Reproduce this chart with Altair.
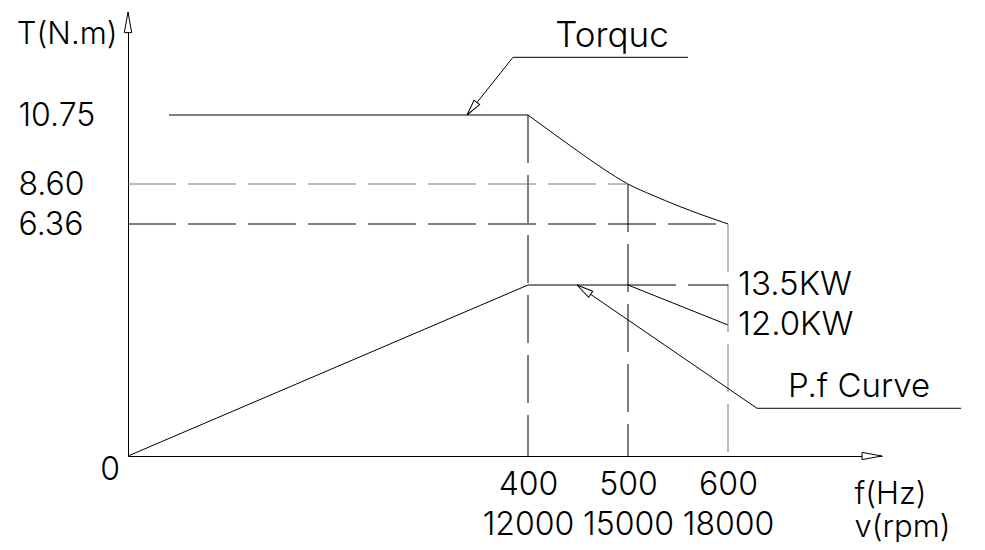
import altair as alt
import pandas as pd

# ---------------- data ----------------
freq_marks = [400, 500, 600]                 # f (Hz)
hz_labels = ["400", "500", "600"]
rpm_labels = ["12000", "15000", "18000"]     # v (rpm)
torque_marks = [10.75, 8.60, 6.36]           # T (N.m) at 400 / 500 / 600 Hz
power_marks = [13.5, 12.0]                   # kW
power_labels = ["13.5KW", "12.0KW"]

torque_flat_f = [41, 400]
torque_flat_t = [10.75, 10.75]
torque_curve_f = [400, 425, 450, 475, 500, 525, 550, 575, 600]
torque_curve_t = [10.75, 10.18, 9.62, 9.08, 8.60, 7.96, 7.38, 6.85, 6.36]

power_f = [0, 400, 500, 600]
power_kw = [0, 13.5, 13.5, 12.0]

# callouts (data units)
torq_leader_f = [339, 385, 560]
torq_leader_t = [10.75, 12.57, 12.57]
torq_text_f, torq_text_t = [484], [12.90]
pf_leader_f = [449, 629, 833]
pf_leader_p = [13.5, 4.37, 4.37]
pf_text_f, pf_text_p = [731], [5.43]

F_END = 754      # end of the f axis (arrow tip)
T_TOP = 14.0     # end of the T axis (arrow tip)

FONT = "Inter"
W = 300
NUM = 32
WORD = 33
INK = "#000000"
GREY = "#7a7a7a"

# ---------------- scales (schematic, piecewise like the drawing) ----------------
xscale = alt.Scale(domain=[0, F_END], nice=False)
tscale = alt.Scale(domain=[0] + sorted(torque_marks) + [T_TOP],
                   range=[444, 212, 172, 103, 0], nice=False)
pscale = alt.Scale(domain=[0] + sorted(power_marks),
                   range=[444, 313, 273], nice=False)

label_expr = " : ".join(
    f"datum.value == {f} ? ['{h}', '{r}']" for f, h, r in zip(freq_marks, hz_labels, rpm_labels)
) + " : ''"

xaxis = alt.Axis(values=freq_marks, labelExpr=label_expr, ticks=False, tickSize=0, grid=False,
                 domain=True, domainColor=INK, domainWidth=1, labelPadding=13, labelLineHeight=40,
                 labelFont=FONT, labelFontSize=NUM, labelFontWeight=W, labelColor=INK,
                 labelFlush=False, labelOverlap=False,
                 title=["f(Hz)", "v(rpm)"], titleAlign="left", titleX=726, titleY=47,
                 titleBaseline="alphabetic", titleLineHeight=33, titleFont=FONT,
                 titleFontSize=31, titleFontWeight=W, titleColor=INK, titleAngle=0)

yaxis = alt.Axis(values=torque_marks, format=".2f", orient="left", labelAlign="left",
                 labelBaseline="middle", labelPadding=110, ticks=False, tickSize=0, grid=False,
                 domain=True, domainColor=INK, domainWidth=1, labelFont=FONT, labelFontSize=NUM,
                 labelFontWeight=W, labelColor=INK, labelOverlap=False,
                 title="T(N.m)", titleAngle=0, titleAlign="right", titleBaseline="alphabetic",
                 titleX=-11, titleY=31, titleFont=FONT, titleFontSize=31, titleFontWeight=W,
                 titleColor=INK)


def X(field="f"):
    return alt.X(f"{field}:Q", scale=xscale, axis=xaxis)


def YT(field="t", axis=None):
    return alt.Y(f"{field}:Q", scale=tscale, axis=axis)


def YP(field="p"):
    return alt.Y(f"{field}:Q", scale=pscale, axis=None)


# ---------------- tables ----------------
df_flat = pd.DataFrame({"f": torque_flat_f, "t": torque_flat_t})
df_curve = pd.DataFrame({"f": torque_curve_f, "t": torque_curve_t})
df_power = pd.DataFrame({"f": power_f, "p": power_kw})

# guide lines: (f,T) -> (f2,T2)
g_black = pd.DataFrame({
    "f": [0, freq_marks[0], freq_marks[1]],
    "t": [torque_marks[2], torque_marks[0], torque_marks[1]],
    "f2": [freq_marks[2], freq_marks[0], freq_marks[1]],
    "t2": [torque_marks[2], 0, 0],
})
g_grey = pd.DataFrame({
    "f": [0, freq_marks[2]],
    "t": [torque_marks[1], torque_marks[2]],
    "f2": [freq_marks[1], freq_marks[2]],
    "t2": [torque_marks[1], 0],
})
g_power = pd.DataFrame({"f": [freq_marks[1]], "p": [power_marks[0]],
                        "f2": [freq_marks[2]], "p2": [power_marks[0]]})

df_tlead = pd.DataFrame({"f": torq_leader_f, "t": torq_leader_t})
df_plead = pd.DataFrame({"f": pf_leader_f, "p": pf_leader_p})

DASH = [48, 12]
ARROW = "M0,0L-0.22,1L0.22,1Z"
ARROW_AX = "M0,0L-0.18,1L0.18,1Z"

layers = []
# torque flat (carries the T axis)
layers.append(alt.Chart(df_flat).mark_line(color=INK, strokeWidth=1).encode(x=X(), y=YT(axis=yaxis)))
layers.append(alt.Chart(df_curve).mark_line(color=INK, strokeWidth=1, interpolate="monotone")
              .encode(x=X(), y=YT()))
layers.append(alt.Chart(df_power).mark_line(color=INK, strokeWidth=1).encode(x=X(), y=YP()))
layers.append(alt.Chart(g_black).mark_rule(color=INK, strokeWidth=1, strokeDash=DASH)
              .encode(x=X(), y=YT(), x2="f2:Q", y2="t2:Q"))
layers.append(alt.Chart(g_grey).mark_rule(color=GREY, strokeWidth=1, strokeDash=DASH)
              .encode(x=X(), y=YT(), x2="f2:Q", y2="t2:Q"))
layers.append(alt.Chart(g_power).mark_rule(color=INK, strokeWidth=1, strokeDash=DASH)
              .encode(x=X(), y=YP(), x2="f2:Q", y2="p2:Q"))
# leaders
layers.append(alt.Chart(df_tlead).mark_line(color=INK, strokeWidth=1).encode(x=X(), y=YT()))
layers.append(alt.Chart(df_plead).mark_line(color=INK, strokeWidth=1).encode(x=X(), y=YP()))
# arrow heads
layers.append(alt.Chart(pd.DataFrame({"f": [torq_leader_f[0]], "t": [torq_leader_t[0]]}))
              .mark_point(shape=ARROW, size=1024, filled=True, fill="white", stroke=INK,
                          strokeWidth=1, opacity=1, angle=218)
              .encode(x=X(), y=YT()))
layers.append(alt.Chart(pd.DataFrame({"f": [pf_leader_f[0]], "p": [pf_leader_p[0]]}))
              .mark_point(shape=ARROW, size=1089, filled=True, fill="white", stroke=INK,
                          strokeWidth=1, opacity=1, angle=304)
              .encode(x=X(), y=YP()))
layers.append(alt.Chart(pd.DataFrame({"f": [0], "t": [T_TOP]}))
              .mark_point(shape=ARROW_AX, size=1700, filled=True, fill="white", stroke=INK,
                          strokeWidth=1, opacity=1, angle=0)
              .encode(x=X(), y=YT()))
layers.append(alt.Chart(pd.DataFrame({"f": [F_END], "t": [0]}))
              .mark_point(shape=ARROW_AX, size=1600, filled=True, fill="white", stroke=INK,
                          strokeWidth=1, opacity=1, angle=90)
              .encode(x=X(), y=YT()))
# texts
txt = dict(font=FONT, fontWeight=W, color=INK)
layers.append(alt.Chart(pd.DataFrame({"f": [0], "t": [0], "s": ["0"]}))
              .mark_text(fontSize=NUM, align="center", baseline="middle", dx=-18, dy=14, **txt)
              .encode(x=X(), y=YT(), text="s:N"))
layers.append(alt.Chart(pd.DataFrame({"f": [freq_marks[2]] * 2, "p": power_marks, "s": power_labels}))
              .mark_text(fontSize=WORD, align="left", baseline="middle", dx=10, **txt)
              .encode(x=X(), y=YP(), text="s:N"))
layers.append(alt.Chart(pd.DataFrame({"f": torq_text_f, "t": torq_text_t, "s": ["Torquc"]}))
              .mark_text(fontSize=WORD + 2, align="center", baseline="alphabetic", **txt)
              .encode(x=X(), y=YT(), text="s:N"))
layers.append(alt.Chart(pd.DataFrame({"f": pf_text_f, "p": pf_text_p, "s": ["P.f Curve"]}))
              .mark_text(fontSize=WORD, align="center", baseline="alphabetic", **txt)
              .encode(x=X(), y=YP(), text="s:N"))

chart = (
    alt.layer(*layers)
    .resolve_scale(y="independent")
    .properties(width=754, height=444, background="white",
                autosize=alt.AutoSizeParams(type="none"),
                padding={"left": 120, "top": 4, "right": 93, "bottom": 86})
    .configure_view(strokeWidth=0)
)

chart.save("out.html", embed_options={"renderer": "svg", "actions": False})
